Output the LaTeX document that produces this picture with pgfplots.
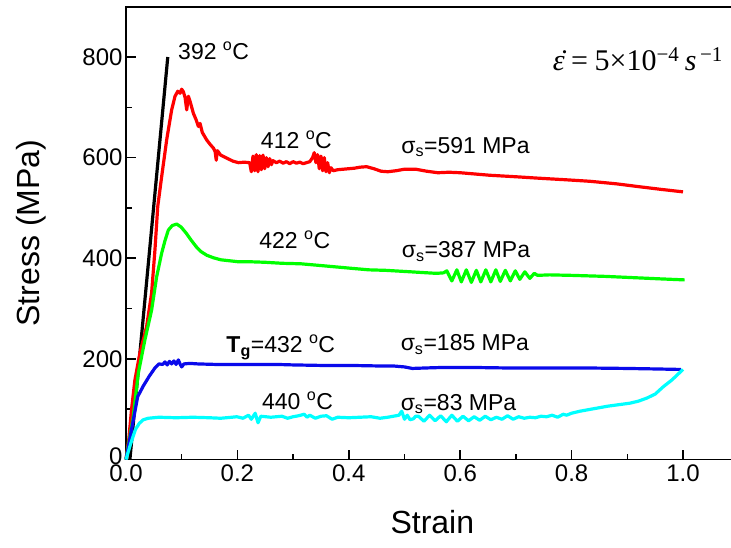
\documentclass[border=0pt]{standalone}
\usepackage{fontspec}
\setmainfont{Liberation Sans}
\newfontfamily\tnr{Liberation Serif}
\usepackage{pgfplots}
\pgfplotsset{compat=1.18}
\usetikzlibrary{calc}
\definecolor{cblue}{RGB}{10,10,235}
\definecolor{ccyan}{RGB}{0,255,255}
\definecolor{cgreen}{RGB}{0,255,0}
\definecolor{cred}{RGB}{255,0,0}
\begin{document}
\begin{tikzpicture}
\begin{axis}[
  scale only axis,
  width=612.7pt, height=452.8pt,
  xmin=0, xmax=1.1, ymin=0, ymax=900,
  xtick={0,0.2,0.4,0.6,0.8,1.0},
  xticklabels={0.0,0.2,0.4,0.6,0.8,1.0},
  ytick={0,200,400,600,800},
  yticklabels={\raisebox{7pt}{0},200,400,600,800},
  minor xtick={0.1,0.3,0.5,0.7,0.9},
  minor ytick={100,300,500,700},
  tick align=inside,
  xtick pos=left, ytick pos=left,
  major tick length=10pt, minor tick length=6pt,
  every tick/.append style={line width=1.6pt, black},
  axis line style={line width=1.8pt},
  tick label style={font=\fontsize{24}{28}\selectfont},
  xticklabel style={yshift=-2pt},
  /pgf/number format/assume math mode=true,
  xlabel={Strain}, ylabel={Stress (MPa)},
  label style={font=\fontsize{32}{38}\selectfont},
  xlabel style={at={(axis description cs:0.5,0)}, anchor=center, yshift=-62.5pt},
  ylabel style={at={(axis description cs:0,0.5)}, anchor=center, yshift=95pt},
  every axis plot/.append style={line width=3.2pt, line join=round},
  clip=false,
]
\coordinate (O) at (rel axis cs:0,0);
% 392 C
\addplot[black] coordinates {(0.007,0) (0.075,800)};
% 412 C
\addplot[cred] coordinates {
(0.000,0)(0.005,40)(0.010,100)(0.016,158)(0.025,212)(0.037,264)(0.046,331)(0.052,417)
(0.057,503)(0.064,562)(0.073,635)(0.082,695)(0.088,722)(0.093,732)(0.097,728)(0.100,736)
(0.103,731)(0.106,720)(0.109,695)(0.112,722)(0.115,712)(0.121,688)(0.126,675)(0.130,662)
(0.133,668)(0.137,650)(0.145,635)(0.152,625)(0.157,619)(0.160,612)(0.162,595)(0.164,614)
(0.170,605)(0.181,599)(0.192,593)(0.202,590)(0.212,591)(0.222,590)
(0.225,572)(0.228,603)(0.231,574)(0.234,606)(0.237,572)(0.240,604)(0.243,576)(0.246,605)
(0.249,578)(0.252,600)(0.255,582)(0.258,598)(0.261,586)(0.264,594)
(0.270,590)(0.276,593)(0.282,589)(0.288,592)(0.294,588)(0.300,592)(0.306,589)(0.312,591)
(0.318,588)(0.324,590)(0.330,592)
(0.335,600)(0.338,610)(0.341,590)(0.344,606)(0.347,578)(0.350,603)(0.353,574)(0.356,600)
(0.359,572)(0.362,590)(0.365,570)(0.368,580)(0.372,574)
(0.380,576)(0.390,577)(0.400,578)(0.410,579)(0.420,581)(0.432,582)(0.445,578)(0.458,573)
(0.470,572)(0.485,574)(0.500,577)(0.520,577)(0.540,573)(0.560,570)(0.580,571)(0.600,570)
(0.653,565)(0.700,562)(0.743,559)(0.790,556)(0.833,553)(0.880,548)(0.923,542)(0.960,537)(1.000,532)
};
% 422 C
\addplot[cgreen] coordinates {
(0,0)(0.006,40)(0.013,85)(0.022,171)(0.034,238)(0.046,297)(0.055,363)(0.064,410)(0.070,435)
(0.076,456)(0.083,465)(0.091,468)(0.099,462)(0.108,450)(0.117,436)(0.126,423)(0.135,413)
(0.145,406)(0.157,401)(0.170,397)(0.186,395)(0.202,393)(0.224,393)(0.25,392)(0.28,390)
(0.314,389)(0.345,386)(0.375,383)(0.405,380)(0.436,377)(0.466,376)(0.497,374)(0.527,372)
(0.557,370)(0.570,371)
(0.576,375)(0.585,355)(0.594,377)(0.602,353)(0.611,377)(0.620,352)(0.629,376)(0.637,353)
(0.646,377)(0.655,353)(0.664,377)(0.672,354)(0.681,376)(0.690,355)(0.699,375)(0.707,358)
(0.716,373)(0.725,360)(0.733,370)(0.739,366)
(0.76,367)(0.80,366)(0.86,364)(0.92,361)(0.96,359)(1.003,357)
};
% 432 C
\addplot[cblue] coordinates {
(0,0)(0.010,60)(0.021,125)(0.031,146)(0.042,166)(0.052,182)(0.059,190)(0.066,189)(0.070,194)
(0.074,188)(0.078,195)(0.082,190)(0.086,196)(0.090,189)(0.094,198)(0.097,190)(0.100,184)
(0.104,190)(0.115,191)(0.129,190)(0.16,189)(0.2,189)(0.269,189)(0.3,188)(0.35,187)(0.4,187)
(0.45,186)(0.479,186)(0.50,184)(0.514,181)(0.54,182)(0.57,183)(0.619,183)(0.68,182)
(0.759,182)(0.82,182)(0.899,181)(0.95,180)(0.996,179)
};
% 440 C
\addplot[ccyan] coordinates {
(0,0)(0.008,30)(0.017,60)(0.024,72)(0.031,79)(0.04,82)(0.059,84)(0.09,83)(0.12,84)(0.15,83)
(0.17,82)(0.19,84)(0.199,85)(0.21,82)(0.22,88)(0.225,80)(0.232,92)(0.237,73)(0.242,86)
(0.26,84)(0.28,86)(0.29,82)(0.30,85)(0.31,87)(0.32,90)(0.325,84)(0.33,88)(0.34,82)(0.35,86)
(0.36,87)(0.37,80)(0.38,84)(0.40,83)(0.42,84)(0.44,85)(0.456,82)(0.47,84)(0.48,86)(0.49,88)
(0.495,96)(0.50,80)(0.505,88)(0.51,79)(0.516,81)(0.52,86)
(0.525,86)(0.535,76)(0.545,88)(0.555,77)(0.565,87)(0.575,75)(0.585,88)(0.595,76)(0.605,86)
(0.615,77)(0.625,85)(0.635,78)(0.645,86)(0.655,79)(0.665,84)(0.675,80)(0.685,87)(0.695,80)
(0.705,85)(0.715,82)(0.725,84)(0.735,83)(0.745,86)(0.755,85)(0.765,88)(0.775,84)(0.785,90)
(0.791,88)(0.80,92)(0.815,96)(0.83,99)(0.845,102)(0.865,106)(0.885,109)(0.905,112)(0.92,116)
(0.935,122)(0.95,130)(0.965,145)(0.98,158)(1.0,179)
};
\begin{scope}[every node/.style={anchor=base west, inner sep=0pt, font=\fontsize{23}{27}\selectfont}]
\node at (axis cs:0.0934,796) {392 \textsuperscript{o}C};
\node at (axis cs:0.242,619) {412 \textsuperscript{o}C};
\node at (axis cs:0.494,609) {σ\textsubscript{s}=591 MPa};
\node at (axis cs:0.239,419) {422 \textsuperscript{o}C};
\node at (axis cs:0.495,401) {σ\textsubscript{s}=387 MPa};
\node at (axis cs:0.18,212) {\textbf{T\textsubscript{g}}=432 \textsuperscript{o}C};
\node at (axis cs:0.493,216) {σ\textsubscript{s}=185 MPa};
\node at (axis cs:0.244,100) {440 \textsuperscript{o}C};
\node at (axis cs:0.493,98) {σ\textsubscript{s}=83 MPa};
\end{scope}
\node[anchor=base east, inner sep=0pt, font=\tnr\fontsize{30}{36}\selectfont] at (axis cs:1.072,774)
  {\.{\textit{ε}}\hspace{0.22em}=\hspace{0.22em}5×10\textsuperscript{−4}\hspace{0.18em}\textit{s}\textsuperscript{\,−1}};
\end{axis}
\pgfresetboundingbox
\path ($(O)+(-126pt,-87.5pt)$) rectangle ($(O)+(605pt,459.5pt)$);
\end{tikzpicture}
\end{document}
